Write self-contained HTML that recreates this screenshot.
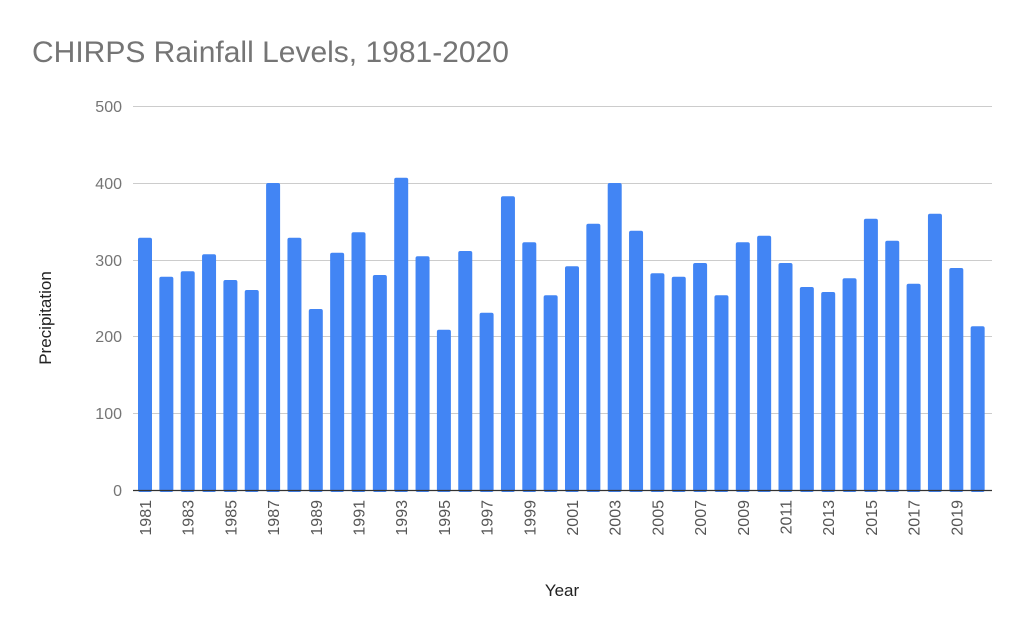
<!DOCTYPE html>
<html><head><style>body{margin:0;background:#fff}svg{display:block}text{font-family:"Liberation Sans",sans-serif}</style></head>
<body>
<svg width="1024" height="633" xmlns="http://www.w3.org/2000/svg">
<rect width="1024" height="633" fill="#fff"/>
<text x="32" y="62" font-size="30" fill="#757575">CHIRPS Rainfall Levels, 1981-2020</text>
<g stroke="#cccccc" stroke-width="1">
<line x1="133" x2="992" y1="106.5" y2="106.5"/>
<line x1="133" x2="992" y1="183.5" y2="183.5"/>
<line x1="133" x2="992" y1="260.5" y2="260.5"/>
<line x1="133" x2="992" y1="336.5" y2="336.5"/>
<line x1="133" x2="992" y1="413.5" y2="413.5"/>
</g>
<g font-size="16" fill="#757575" text-anchor="end">
<text x="122" y="112">500</text><text x="122" y="189">400</text><text x="122" y="266">300</text>
<text x="122" y="342">200</text><text x="122" y="419">100</text><text x="122" y="496">0</text>
</g>
<text transform="translate(51,318) rotate(-90)" font-size="17" fill="#222" text-anchor="middle">Precipitation</text>
<text x="562" y="596" font-size="17" fill="#222" text-anchor="middle">Year</text>
<g id="bars" fill="#4285f4"></g>
<g id="labels" font-size="16" fill="#555"></g>
<line x1="133" x2="992" y1="490.5" y2="490.5" stroke="#333" stroke-width="1.2"/>
<script>
var tops=[237.7,276.7,271.3,254.3,280,290,183,237.7,309,252.7,232.3,275,177.7,256.3,329.7,251,312.7,196.3,242.3,295.3,266.3,223.7,183,230.7,273.3,276.7,263,295.3,242.3,235.7,263,287,292,278.3,218.7,240.7,283.7,213.7,268,326.3];
var b=document.getElementById('bars'),l=document.getElementById('labels'),ns='http://www.w3.org/2000/svg';
for(var i=0;i<40;i++){var cx=145+i*21.35;var r=document.createElementNS(ns,'rect');
r.setAttribute('x',cx-7);r.setAttribute('y',tops[i]);r.setAttribute('width',14);r.setAttribute('height',492-tops[i]);r.setAttribute('rx',2);b.appendChild(r);
if(i%2==0){var t=document.createElementNS(ns,'text');t.setAttribute('transform','translate('+(cx+6)+',500) rotate(-90)');t.setAttribute('text-anchor','end');t.textContent=1981+i;l.appendChild(t);}}
</script>
</svg>
</body></html>
